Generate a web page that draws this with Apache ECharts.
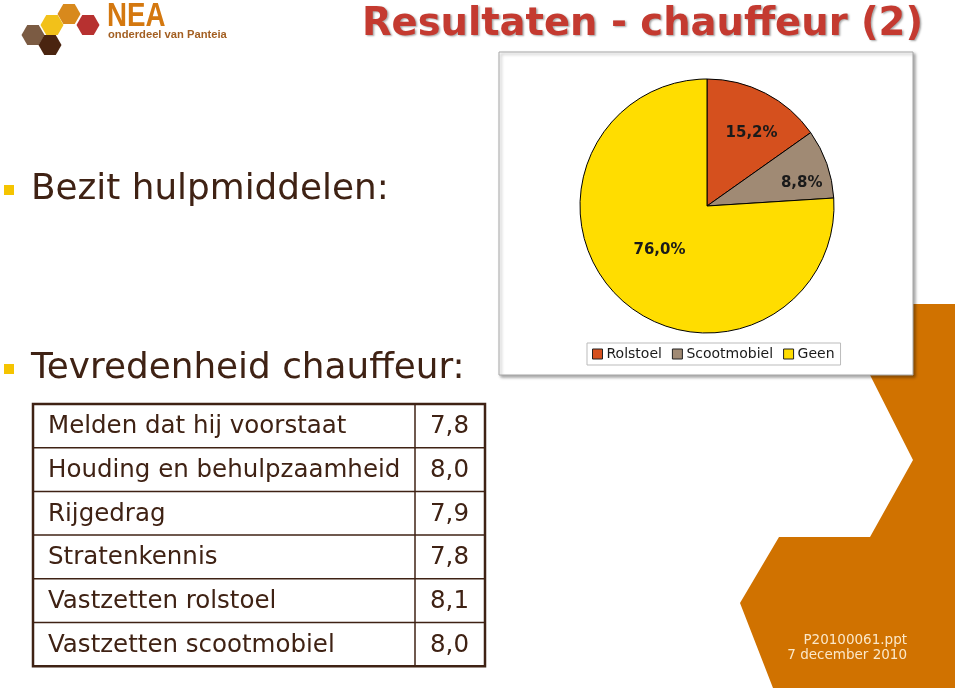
<!DOCTYPE html>
<html><head><meta charset="utf-8">
<script src="https://cdn.jsdelivr.net/npm/echarts@6/dist/echarts.min.js"></script>
<style>html,body{margin:0;padding:0;background:#fff}#c{width:960px;height:691px}</style>
</head><body><div id="c"></div>
<script>
// ---- data ----
const pieCategories = ['Rolstoel', 'Scootmobiel', 'Geen'];
const pieValues = [15.2, 8.8, 76.0];
const tableLabels = ['Melden dat hij voorstaat', 'Houding en behulpzaamheid', 'Rijgedrag', 'Stratenkennis', 'Vastzetten rolstoel', 'Vastzetten scootmobiel'];
const tableValues = [7.8, 8.0, 7.9, 7.8, 8.1, 8.0];
const bulletTexts = ['Bezit hulpmiddelen:', 'Tevredenheid chauffeur:'];
const titleText = 'Resultaten - chauffeur (2)';
const footerLines = ['P20100061.ppt', '7 december 2010'];

// ---- styles ----
const pieColors = ['#D5501E', '#A08A74', '#FFDD00'];
const labelOffsets = [[14, -14], [32, -1], [-2, -4]];
const brown = '#3F2214';
const orange = '#D07200';
const fmt = v => v.toFixed(1).replace('.', ',');

const chart = echarts.init(document.getElementById('c'), null, {renderer: 'canvas'});

function hex(cx, cy, r) {
  const pts = [];
  for (let i = 0; i < 6; i++) {
    const a = Math.PI / 3 * i;
    pts.push([cx + r * Math.cos(a), cy + r * Math.sin(a)]);
  }
  return pts;
}

const graphics = [];
// orange decorative shape
graphics.push({type: 'polygon', z: 0, shape: {points: [[830, 304], [955, 304], [955, 688], [773, 688], [740, 603], [779, 537], [870, 537], [913, 460], [870, 375]]}, style: {fill: orange}});
// chart box
graphics.push({type: 'rect', z: 1, shape: {x: 499, y: 52, width: 414, height: 323}, style: {fill: '#fff', stroke: '#A8A8A8', lineWidth: 1, shadowBlur: 3, shadowOffsetX: 2, shadowOffsetY: 2, shadowColor: 'rgba(0,0,0,0.35)'}});
// logo
const hexes = [[69, 14, '#D8891C'], [88, 25, '#B73130'], [52, 25, '#F2C11A'], [33, 35, '#7B5B43'], [50, 45, '#4A2410']];
hexes.forEach(h => graphics.push({type: 'polygon', z: 2, shape: {points: hex(h[0], h[1], 11.5)}, style: {fill: h[2]}}));
graphics.push({type: 'text', z: 2, x: 107, y: 17, scaleX: 0.84, style: {text: 'NEA', fill: '#D4780F', font: 'bold 33px "Liberation Sans"', textVerticalAlign: 'middle'}});
graphics.push({type: 'text', z: 2, x: 108, y: 35, style: {text: 'onderdeel van Panteia', fill: '#A35F22', font: 'bold 11.2px "Liberation Sans"', textVerticalAlign: 'middle'}});
// bullets
const bulletY = [190, 369];
bulletTexts.forEach((t, i) => {
  graphics.push({type: 'rect', z: 2, shape: {x: 4, y: bulletY[i] - 5, width: 10, height: 10}, style: {fill: '#F5C400'}});
  graphics.push({type: 'text', z: 2, x: 31, y: bulletY[i], style: {text: t, fill: brown, font: '35.8px "DejaVu Sans"', textVerticalAlign: 'middle'}});
});
// table
const tX0 = 33, tX1 = 415, tX2 = 485, tY0 = 404, rowH = 43.7;
tableLabels.forEach((lab, i) => {
  const y = tY0 + i * rowH;
  graphics.push({type: 'text', z: 3, x: 48, y: y + rowH / 2 + 1, style: {text: lab, fill: brown, font: '24.5px "DejaVu Sans"', textVerticalAlign: 'middle'}});
  graphics.push({type: 'text', z: 3, x: 469, y: y + rowH / 2 + 1, style: {text: fmt(tableValues[i]), fill: brown, font: '24.5px "DejaVu Sans"', textAlign: 'right', textVerticalAlign: 'middle'}});
  if (i > 0) graphics.push({type: 'line', z: 3, shape: {x1: tX0, y1: y, x2: tX2, y2: y}, style: {stroke: brown, lineWidth: 1.5}});
});
graphics.push({type: 'line', z: 3, shape: {x1: tX1, y1: tY0, x2: tX1, y2: tY0 + rowH * tableLabels.length}, style: {stroke: brown, lineWidth: 1.5}});
graphics.push({type: 'rect', z: 3, shape: {x: tX0, y: tY0, width: tX2 - tX0, height: rowH * tableLabels.length}, style: {fill: 'none', stroke: brown, lineWidth: 2.5}});
// footer
footerLines.forEach((t, i) => graphics.push({type: 'text', z: 3, x: 907, y: 640 + i * 15.5, style: {text: t, fill: '#FBE8C8', font: '13.5px "DejaVu Sans"', textAlign: 'right', textVerticalAlign: 'middle'}}));

chart.setOption({
  animation: false,
  backgroundColor: '#fff',
  title: {
    text: titleText, right: 32, top: 0,
    textStyle: {color: '#C43A30', fontFamily: 'DejaVu Sans', fontWeight: 'bold', fontSize: 38.5, textShadowColor: 'rgba(0,0,0,0.35)', textShadowBlur: 2, textShadowOffsetX: 1.5, textShadowOffsetY: 1.5}
  },
  legend: {
    data: pieCategories, left: 587, top: 343,
    icon: 'rect', itemWidth: 10, itemHeight: 10, itemGap: 10,
    padding: [4, 6, 4, 5],
    borderColor: '#BBBBBB', borderWidth: 1, backgroundColor: '#fff',
    itemStyle: {borderColor: '#222', borderWidth: 1},
    textStyle: {fontFamily: 'DejaVu Sans', fontSize: 14, color: '#1a1a1a', padding: [0, 0, 0, -1]},
    selectedMode: false
  },
  graphic: {elements: graphics},
  series: [{
    type: 'pie', center: [707, 206], radius: 127, startAngle: 90, clockwise: true,
    silent: true,
    itemStyle: {borderColor: '#000', borderWidth: 1},
    label: {position: 'inside', fontFamily: 'DejaVu Sans', fontWeight: 'bold', fontSize: 15, color: '#1a1a1a',
      formatter: p => fmt(p.value) + '%'},
    labelLine: {show: false},
    data: pieCategories.map((n, i) => ({name: n, value: pieValues[i], itemStyle: {color: pieColors[i]}, label: {offset: labelOffsets[i]}}))
  }]
});
</script></body></html>
